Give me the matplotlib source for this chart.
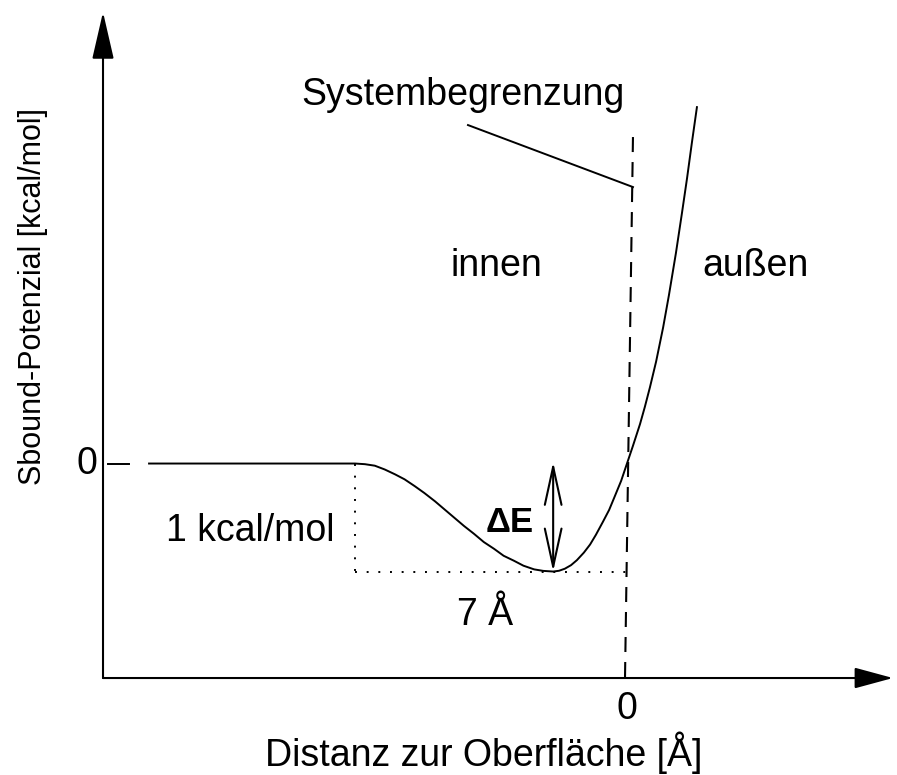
import matplotlib

matplotlib.use("Agg")
import matplotlib.pyplot as plt

plt.rcParams["font.family"] = ["Liberation Sans", "DejaVu Sans"]

# potential curve (x in Å, y in kcal/mol)
pot_x = [-12.30, -7.00, -6.745, -6.49, -6.235, -5.97, -5.725, -5.46, -5.215,
         -4.94, -4.705, -4.45, -4.195, -3.94, -3.685, -3.42, -3.175, -2.91,
         -2.665, -2.39, -2.155, -1.90, -1.75, -1.60, -1.44, -1.29, -1.11,
         -0.95, -0.80, -0.62, -0.46, -0.31, -0.15, 0.00, 0.15, 0.335, 0.46,
         0.59, 0.75, 0.93, 1.08, 1.26, 1.415, 1.545, 1.67, 1.80]
pot_y = [0.00, 0.00, -0.006, -0.02, -0.055, -0.10, -0.146, -0.21, -0.273,
         -0.35, -0.422, -0.50, -0.578, -0.65, -0.727, -0.79, -0.854, -0.90,
         -0.946, -0.98, -0.994, -1.00, -0.993, -0.974, -0.941, -0.895, -0.825,
         -0.75, -0.66, -0.54, -0.43, -0.30, -0.16, 0.00, 0.16, 0.365, 0.525,
         0.705, 0.945, 1.26, 1.56, 1.95, 2.32, 2.64, 2.97, 3.30]

well_start = -7.0      # where the dip begins
well_min_x = -1.90     # position of the minimum
well_depth = -1.0      # kcal/mol

# schematic frame
x_axis_y = -1.986
y_axis_x = -13.485
x_tip = 6.845
y_tip = 4.18
boundary_x = [0.154, -0.051]
boundary_y = [3.023, -1.986]
leader_x = [-4.092, 0.154]
leader_y = [3.134, 2.560]

FS = 27


def main() -> None:
    fig = plt.figure(figsize=(8.97, 7.75), dpi=100)
    ax = fig.add_axes([0, 0, 1, 1])
    ax.set_xlim(-16.136, 6.949)
    ax.set_ylim(-2.884, 4.292)
    ax.axis("off")

    # axes with filled arrow heads
    ax.annotate("", xy=(x_tip, x_axis_y), xytext=(y_axis_x, x_axis_y),
                arrowprops=dict(arrowstyle="-|>,head_length=2.4,head_width=0.65",
                                color="black", lw=1.5, shrinkA=0, shrinkB=0))
    ax.annotate("", xy=(y_axis_x, y_tip), xytext=(y_axis_x, x_axis_y),
                arrowprops=dict(arrowstyle="-|>,head_length=2.95,head_width=0.68",
                                color="black", lw=1.5, shrinkA=0, shrinkB=0))

    # "0" tick on the y axis
    ax.plot([-13.36, -12.82], [0, 0], color="black", lw=1.4)

    # curve
    ax.plot(pot_x, pot_y, color="black", lw=1.4, solid_joinstyle="round")

    # system boundary (dashed) and its leader line
    ax.plot(boundary_x, boundary_y, color="black", lw=1.5, dashes=(7.2, 4.8))
    ax.plot(leader_x, leader_y, color="black", lw=1.4)

    # dotted guides for width / depth of the well
    ax.plot([well_start, well_start], [0, well_depth], color="black",
            lw=1.4, dashes=(1, 5))
    ax.plot([well_start, 0], [well_depth, well_depth], color="black",
            lw=1.4, dashes=(1, 5))

    # ΔE double arrow
    ax.annotate("", xy=(well_min_x, 0.015), xytext=(well_min_x, well_depth),
                arrowprops=dict(arrowstyle="<->,head_length=2.74,head_width=0.6",
                                color="black", lw=1.5, shrinkA=0, shrinkB=0))

    ax.text(-3.01, -0.634, "ΔE", fontsize=25, fontweight="bold",
            ha="center", va="baseline")
    ax.text(-4.22, 3.319, "Systembegrenzung", fontsize=FS, ha="center",
            va="baseline")
    ax.text(-3.371, 1.734, "innen", fontsize=FS, ha="center", va="baseline")
    ax.text(3.32, 1.734, "außen", fontsize=FS, ha="center", va="baseline")
    ax.text(-9.70, -0.715, "1 kcal/mol", fontsize=FS, ha="center",
            va="baseline")
    ax.text(-3.654, -1.495, "7 Å", fontsize=FS, ha="center", va="baseline")
    ax.text(-13.90, 0, "0", fontsize=FS, ha="center", va="center")
    ax.text(0, -2.273, "0", fontsize=FS, ha="center", va="center")
    ax.text(-3.68, -2.80, "Distanz zur Oberfläche [Å]", fontsize=FS,
            ha="center", va="baseline")
    ax.text(-15.29, 1.542, "Sbound-Potenzial [kcal/mol]", fontsize=22,
            rotation=90, ha="center", va="center")

    fig.savefig("out.png", dpi=100)


if __name__ == "__main__":
    main()
